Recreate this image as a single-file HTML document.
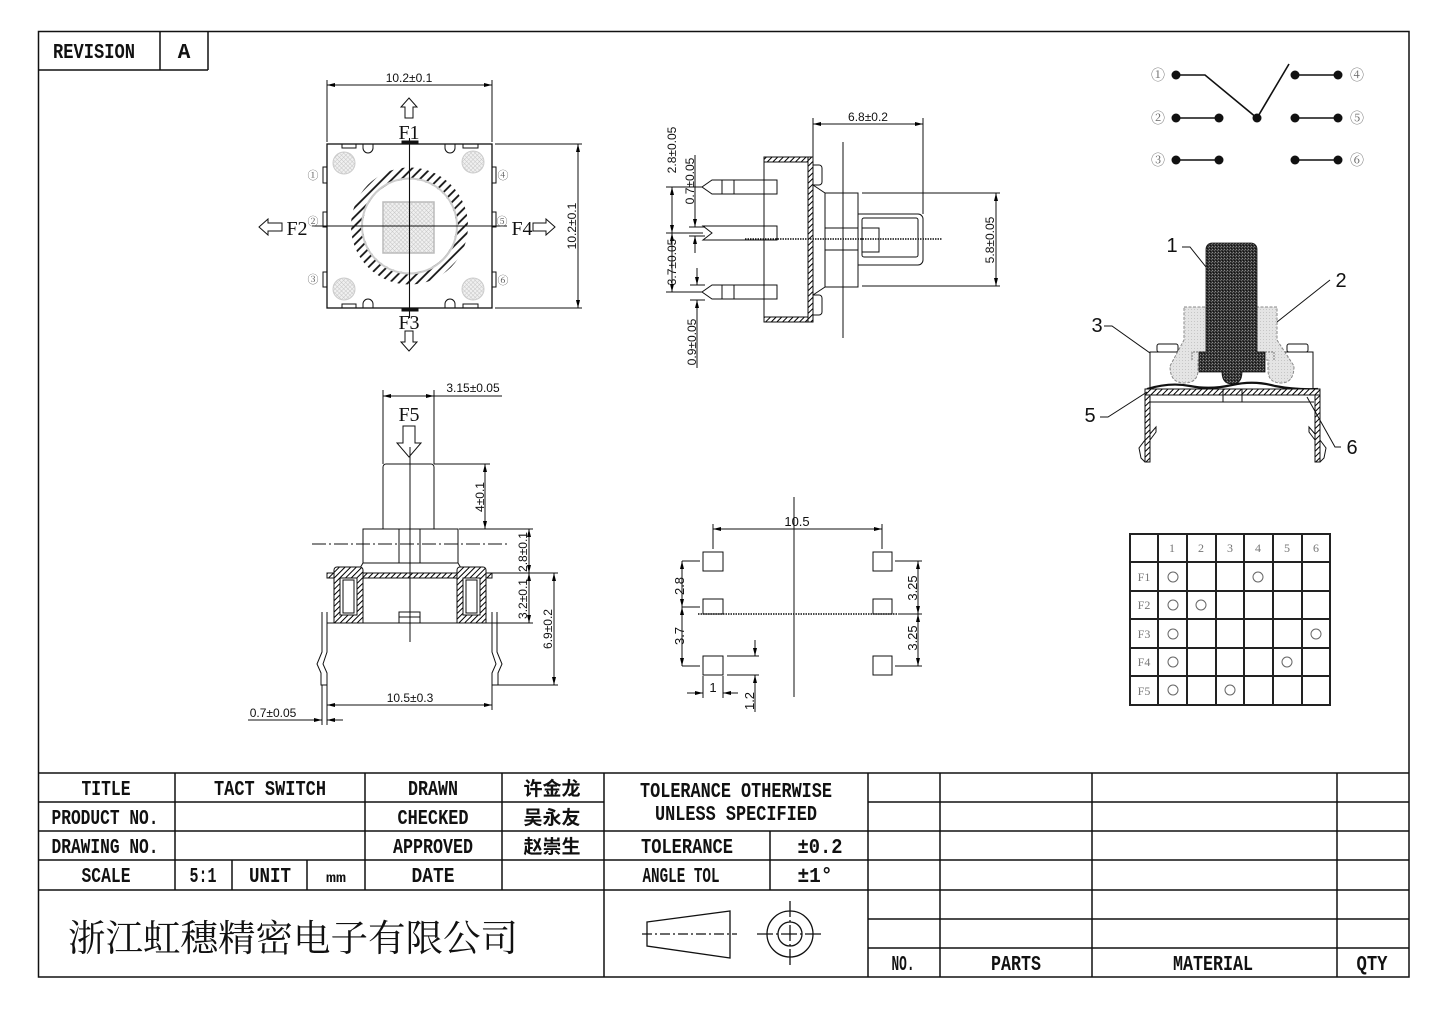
<!DOCTYPE html>
<html><head><meta charset="utf-8">
<style>html,body{margin:0;padding:0;background:#fff}svg{display:block}</style>
</head>
<body>
<svg width="1444" height="1012" viewBox="0 0 1444 1012" xmlns="http://www.w3.org/2000/svg">
<defs>
<marker id="ar" viewBox="0 0 8 4" refX="8" refY="2" markerWidth="8" markerHeight="4" markerUnits="userSpaceOnUse" orient="auto-start-reverse"><path d="M0,0L8,2L0,4z" fill="#000"/></marker>
<pattern id="h" width="4" height="4" patternUnits="userSpaceOnUse" patternTransform="rotate(45)"><rect width="4" height="4" fill="#fff"/><line x1="1" y1="0" x2="1" y2="4" stroke="#000" stroke-width="1"/></pattern>
<pattern id="h2" width="6.5" height="6.5" patternUnits="userSpaceOnUse" patternTransform="rotate(45)"><line x1="1" y1="0" x2="1" y2="6.5" stroke="#111" stroke-width="1.8"/></pattern>
<pattern id="x" width="3" height="3" patternUnits="userSpaceOnUse" patternTransform="rotate(45)"><rect width="3" height="3" fill="#f0f0f0"/><path d="M0,0H3M0,0V3" stroke="#c4c4c4" stroke-width="0.9"/></pattern>
<pattern id="dk" width="3" height="3" patternUnits="userSpaceOnUse"><rect width="3" height="3" fill="#333"/><rect width="1" height="1" fill="#888"/><rect x="2" y="1" width="1" height="1" fill="#666"/><rect x="1" y="2" width="1" height="1" fill="#111"/></pattern>
<pattern id="lg" width="3" height="3" patternUnits="userSpaceOnUse"><rect width="3" height="3" fill="#e4e4e4"/><rect width="1" height="1" fill="#c6c6c6"/></pattern>
</defs>
<rect width="1444" height="1012" fill="#fff"/>

<g fill="none" stroke="#111" stroke-width="1.5">
<rect x="38.5" y="31.5" width="1370.5" height="945.5"/>
<path d="M160,31V70M208,31V70M38,70H208"/>
<path d="M38,773H1409M38,802H604M868,802H1409M38,831H1409M38,860H1409M38,890H1409M868,919H1409M868,948H1409"/>
<path d="M175,773V890M365,773V890M502,773V890M604,773V977M232,860V890M307,860V890M770,831V890M868,773V977M940,773V977M1092,773V977M1337,773V977"/>
</g>

<g font-family="'Liberation Mono','Noto Sans CJK SC',monospace" font-weight="bold" font-size="21" fill="#111" text-anchor="middle">
<text x="94" y="58" textLength="82" lengthAdjust="spacingAndGlyphs">REVISION</text>
<text x="184" y="58">A</text>
<text x="106" y="795" textLength="49" lengthAdjust="spacingAndGlyphs">TITLE</text>
<text x="270" y="795" textLength="112" lengthAdjust="spacingAndGlyphs">TACT SWITCH</text>
<text x="433" y="795" textLength="50" lengthAdjust="spacingAndGlyphs">DRAWN</text>
<text x="105" y="824" textLength="107" lengthAdjust="spacingAndGlyphs">PRODUCT NO.</text>
<text x="433" y="824" textLength="71" lengthAdjust="spacingAndGlyphs">CHECKED</text>
<text x="105" y="853" textLength="107" lengthAdjust="spacingAndGlyphs">DRAWING NO.</text>
<text x="433" y="853" textLength="80" lengthAdjust="spacingAndGlyphs">APPROVED</text>
<text x="106" y="882" textLength="49" lengthAdjust="spacingAndGlyphs">SCALE</text>
<text x="203" y="882" textLength="27" lengthAdjust="spacingAndGlyphs">5:1</text>
<text x="270" y="882" textLength="42" lengthAdjust="spacingAndGlyphs">UNIT</text>
<text x="336" y="882" font-size="14" textLength="20" lengthAdjust="spacingAndGlyphs">mm</text>
<text x="433" y="882" textLength="43" lengthAdjust="spacingAndGlyphs">DATE</text>
<text x="736" y="797" textLength="192" lengthAdjust="spacingAndGlyphs">TOLERANCE OTHERWISE</text>
<text x="736" y="820" textLength="162" lengthAdjust="spacingAndGlyphs">UNLESS SPECIFIED</text>
<text x="687" y="853" textLength="92" lengthAdjust="spacingAndGlyphs">TOLERANCE</text>
<text x="820" y="853" textLength="45" lengthAdjust="spacingAndGlyphs">±0.2</text>
<text x="681" y="882" textLength="77" lengthAdjust="spacingAndGlyphs">ANGLE TOL</text>
<text x="815" y="882" textLength="35" lengthAdjust="spacingAndGlyphs">±1°</text>
<text x="903" y="970" textLength="23" lengthAdjust="spacingAndGlyphs">NO.</text>
<text x="1016" y="970" textLength="50" lengthAdjust="spacingAndGlyphs">PARTS</text>
<text x="1213" y="970" textLength="80" lengthAdjust="spacingAndGlyphs">MATERIAL</text>
<text x="1372" y="970" textLength="31" lengthAdjust="spacingAndGlyphs">QTY</text>
</g>
<g font-family="'Noto Sans CJK SC',sans-serif" font-weight="bold" font-size="19" fill="#111" text-anchor="middle">
<text x="552" y="795">许金龙</text>
<text x="552" y="824">吴永友</text>
<text x="552" y="853">赵崇生</text>
</g>
<text x="68" y="951" font-family="'Noto Serif CJK SC','Noto Sans CJK SC',serif" font-size="37" fill="#111" textLength="450" lengthAdjust="spacingAndGlyphs">浙江虹穗精密电子有限公司</text>

<g fill="none" stroke="#111" stroke-width="1.3">
<path d="M647,922L730,911V958L647,946Z"/>
<path d="M642,934H737" stroke-dasharray="10,3,2,3"/>
<circle cx="790" cy="934" r="23"/>
<circle cx="790" cy="934" r="12"/>
<path d="M757,934H823M790,901V967" stroke-dasharray="16,3,2,3"/>
</g>

<!-- TOP VIEW -->
<g fill="none" stroke="#111" stroke-width="1">
<path d="M327,80V142M492,80V142"/>
<path d="M327,85H492" marker-start="url(#ar)" marker-end="url(#ar)"/>
<path d="M495,144H582M495,308H582"/>
<path d="M578,144V308" marker-start="url(#ar)" marker-end="url(#ar)"/>
<circle cx="344" cy="163" r="11" fill="url(#x)" stroke="#ccc"/>
<circle cx="473" cy="162" r="11" fill="url(#x)" stroke="#ccc"/>
<circle cx="344" cy="289" r="11" fill="url(#x)" stroke="#ccc"/>
<circle cx="473" cy="289" r="11" fill="url(#x)" stroke="#ccc"/>
<path d="M351,226a58.5,58.5 0 1 0 117,0a58.5,58.5 0 1 0 -117,0ZM363,226a46.5,46.5 0 1 1 93,0a46.5,46.5 0 1 1 -93,0Z" fill="url(#h2)" fill-rule="evenodd" stroke="none"/>
<circle cx="409.5" cy="226" r="47.5" stroke="#ccc" stroke-width="2"/>
<rect x="383" y="202" width="51" height="51" fill="url(#x)" stroke="#bbb" stroke-width="1.5"/>
<rect x="327" y="144" width="165" height="164" stroke-width="1.3"/>
<rect x="342" y="144" width="14" height="4"/>
<rect x="463" y="144" width="15" height="4"/>
<path d="M363,144v4a5,5 0 0 0 10,0v-4M445,144v4a5,5 0 0 0 10,0v-4"/>
<rect x="342" y="304" width="14" height="4"/>
<rect x="463" y="304" width="15" height="4"/>
<path d="M363,308v-4a5,5 0 0 1 10,0v4M445,308v-4a5,5 0 0 1 10,0v4"/>
<rect x="402" y="141" width="16" height="3" fill="#111"/>
<rect x="402" y="308" width="16" height="3" fill="#111"/>
<rect x="323" y="167" width="4" height="16"/>
<rect x="323" y="212" width="4" height="15"/>
<rect x="323" y="272" width="4" height="15"/>
<rect x="492" y="167" width="4" height="16"/>
<rect x="492" y="212" width="4" height="15"/>
<rect x="492" y="272" width="4" height="15"/>
<path d="M409.5,138V318M312,226H507" stroke-width="1.1"/>
<path d="M409,98L417,107H413V118H405V107H401Z"/>
<path d="M409,351L417,342H413V331H405V342H401Z"/>
<path d="M259,227L268,219V223H282V231H268V235Z"/>
<path d="M555,227L546,219V223H533V231H546V235Z"/>
</g>
<g font-family="'Liberation Serif',serif" font-size="20" fill="#111" text-anchor="middle">
<text x="409" y="139">F1</text>
<text x="409" y="329">F3</text>
<text x="297" y="235">F2</text>
<text x="522" y="235">F4</text>
<text x="409" y="421">F5</text>
</g>
<g font-family="'Liberation Serif','Noto Serif CJK SC','Noto Sans CJK SC',serif" font-size="11" fill="#555" text-anchor="middle">
<text x="313" y="179">①</text>
<text x="313" y="225">②</text>
<text x="313" y="283">③</text>
<text x="503" y="179">④</text>
<text x="502" y="225">⑤</text>
<text x="503" y="284">⑥</text>
</g>

<!-- SIDE VIEW -->
<g fill="none" stroke="#111" stroke-width="1">
<path d="M813,118V157M923,118V214"/>
<path d="M813,124H923" marker-start="url(#ar)" marker-end="url(#ar)"/>
<path d="M862,193H1000M862,286H1000"/>
<path d="M996,193V286" marker-start="url(#ar)" marker-end="url(#ar)"/>
<rect x="764" y="157" width="49" height="165"/>
<rect x="764" y="157" width="44" height="5" fill="url(#h)"/>
<rect x="764" y="317" width="44" height="5" fill="url(#h)"/>
<rect x="808" y="157" width="5" height="165" fill="url(#h)"/>
<path d="M813,165h6a3,3 0 0 1 3,3v14a3,3 0 0 1 -3,3h-6M813,295h6a3,3 0 0 1 3,3v14a3,3 0 0 1 -3,3h-6"/>
<path d="M813,185L825,193V287L813,295"/>
<rect x="825" y="193" width="33" height="94"/>
<path d="M825,228H858M825,250H858"/>
<path d="M858,214H918a5,5 0 0 1 5,5V260a5,5 0 0 1 -5,5H858"/>
<rect x="862" y="218" width="56" height="39" rx="2"/>
<rect x="862" y="228" width="17" height="24"/>
<path d="M777,180H712L702,187L712,194H777ZM722,180V194M734,180V194"/>
<path d="M777,226H703L712,233L703,240H777Z"/>
<path d="M777,285H712L702,292L712,299H777ZM722,285V299M734,285V299"/>
<path d="M843,142V338"/>
<path d="M745,239H942" stroke-dasharray="1.5,1" stroke-width="1.4"/>
<path d="M666,187H702M666,233H703M666,292H702"/>
<path d="M672,187V233" marker-start="url(#ar)" marker-end="url(#ar)"/>
<path d="M672,233V292" marker-start="url(#ar)" marker-end="url(#ar)"/>
<path d="M695,155V227M695,236V253" />
<path d="M695,212V227" marker-end="url(#ar)"/>
<path d="M695,252V236" marker-end="url(#ar)"/>
<path d="M689,227H705M689,236H705"/>
<path d="M697,268V285" marker-end="url(#ar)"/>
<path d="M697,368V300" marker-end="url(#ar)"/>
<path d="M690,285H705M690,300H705"/>
</g>

<g font-family="'Liberation Sans',sans-serif" font-size="12" fill="#111" text-anchor="middle">
<text x="409" y="82">10.2±0.1</text>
<text transform="translate(576,226) rotate(-90)">10.2±0.1</text>
<text x="868" y="121">6.8±0.2</text>
<text transform="translate(994,240) rotate(-90)">5.8±0.05</text>
<text transform="translate(676,150) rotate(-90)">2.8±0.05</text>
<text transform="translate(694,181) rotate(-90)">0.7±0.05</text>
<text transform="translate(676,262) rotate(-90)">3.7±0.05</text>
<text transform="translate(696,342) rotate(-90)">0.9±0.05</text>
<text x="473" y="392">3.15±0.05</text>
<text transform="translate(484,497) rotate(-90)">4±0.1</text>
<text transform="translate(527,552) rotate(-90)">2.8±0.1</text>
<text transform="translate(527,599) rotate(-90)">3.2±0.1</text>
<text transform="translate(552,629) rotate(-90)">6.9±0.2</text>
<text x="410" y="702">10.5±0.3</text>
<text x="273" y="717">0.7±0.05</text>
<text x="797" y="526" font-size="13">10.5</text>
<text transform="translate(684,586) rotate(-90)" font-size="13">2.8</text>
<text transform="translate(684,636) rotate(-90)" font-size="13">3.7</text>
<text transform="translate(917,588) rotate(-90)" font-size="13">3.25</text>
<text transform="translate(917,638) rotate(-90)" font-size="13">3.25</text>
<text x="713" y="692" font-size="13">1</text>
<text transform="translate(754,701) rotate(-90)" font-size="13">1.2</text>
</g>

<!-- FRONT VIEW -->
<g fill="none" stroke="#111" stroke-width="1">
<path d="M383,390V464M434,390V464"/>
<path d="M383,396H434" marker-start="url(#ar)" marker-end="url(#ar)"/>
<path d="M434,396H502"/>
<path d="M403,426H415V443H421L409,457L397,443H403Z"/>
<path d="M383,529V467a3,3 0 0 1 3,-3H431a3,3 0 0 1 3,3V529"/>
<rect x="363" y="529" width="95" height="34"/>
<path d="M399,529V563M420,529V563"/>
<path d="M363,563L357,573M458,563L464,573"/>
<rect x="327" y="573" width="165" height="5" fill="url(#h)"/>
<path d="M334,623V570a3,3 0 0 1 3,-3H360a3,3 0 0 1 3,3V623Z" fill="url(#h)"/>
<rect x="340" y="578" width="17" height="37" fill="#fff"/>
<rect x="343" y="580" width="11" height="33"/>
<path d="M457,623V570a3,3 0 0 1 3,-3H483a3,3 0 0 1 3,3V623Z" fill="url(#h)"/>
<rect x="463" y="578" width="17" height="37" fill="#fff"/>
<rect x="466" y="580" width="11" height="33"/>
<path d="M327,623H533"/>
<rect x="399" y="612" width="21" height="11"/>
<path d="M399,617H420"/>
<path d="M322,612V652L317,664L321,673V685H327V673L323,664L327,652V612"/>
<path d="M497,612V652L502,664L498,673V685H492V673L496,664L492,652V612"/>
<path d="M410,447V642"/>
<path d="M312,544H508" stroke-dasharray="14,3,2,3"/>
<path d="M434,464H490M459,529H533M486,573H558M497,685H558"/>
<path d="M485,464V529" marker-start="url(#ar)" marker-end="url(#ar)"/>
<path d="M529,529V573" marker-start="url(#ar)" marker-end="url(#ar)"/>
<path d="M529,573V623" marker-start="url(#ar)" marker-end="url(#ar)"/>
<path d="M554,573V685" marker-start="url(#ar)" marker-end="url(#ar)"/>
<path d="M327,685V725M492,685V710M322,685V725"/>
<path d="M327,705H492" marker-start="url(#ar)" marker-end="url(#ar)"/>
<path d="M248,720H322" marker-end="url(#ar)"/>
<path d="M343,720H327" marker-end="url(#ar)"/>
</g>

<!-- FOOTPRINT -->
<g fill="none" stroke="#111" stroke-width="1">
<path d="M713,524V549M882,524V549"/>
<path d="M713,529H882" marker-start="url(#ar)" marker-end="url(#ar)"/>
<rect x="703" y="552" width="20" height="19"/>
<rect x="703" y="599" width="20" height="15"/>
<rect x="703" y="656" width="20" height="19"/>
<rect x="873" y="552" width="19" height="19"/>
<rect x="873" y="599" width="19" height="15"/>
<rect x="873" y="656" width="19" height="19"/>
<path d="M794,497V697"/>
<path d="M698,614H898" stroke-dasharray="1.5,1" stroke-width="1.4"/>
<path d="M682,561H700M682,607H700M682,666H700"/>
<path d="M682,561V607" marker-start="url(#ar)" marker-end="url(#ar)"/>
<path d="M682,607V666" marker-start="url(#ar)" marker-end="url(#ar)"/>
<path d="M895,561H922M895,666H922M898,614H922"/>
<path d="M918,561V614" marker-start="url(#ar)" marker-end="url(#ar)"/>
<path d="M918,614V666" marker-start="url(#ar)" marker-end="url(#ar)"/>
<path d="M703,676V698M723,676V698"/>
<path d="M687,693H703" marker-end="url(#ar)"/>
<path d="M738,693H723" marker-end="url(#ar)"/>
<path d="M727,656H759M727,675H759"/>
<path d="M755,640V656" marker-end="url(#ar)"/>
<path d="M755,712V675" marker-end="url(#ar)"/>
</g>

<!-- SCHEMATIC -->
<g stroke="#111" stroke-width="1.6" fill="none">
<path d="M1176,75H1205L1257,118L1289,64"/>
<path d="M1295,75H1338M1176,118H1219M1295,118H1338M1176,160H1219M1295,160H1338"/>
</g>
<g fill="#111">
<circle cx="1176" cy="75" r="4.5"/><circle cx="1295" cy="75" r="4.5"/><circle cx="1338" cy="75" r="4.5"/>
<circle cx="1176" cy="118" r="4.5"/><circle cx="1219" cy="118" r="4.5"/><circle cx="1257" cy="118" r="4.5"/><circle cx="1295" cy="118" r="4.5"/><circle cx="1338" cy="118" r="4.5"/>
<circle cx="1176" cy="160" r="4.5"/><circle cx="1219" cy="160" r="4.5"/><circle cx="1295" cy="160" r="4.5"/><circle cx="1338" cy="160" r="4.5"/>
</g>
<g font-family="'Liberation Serif','Noto Serif CJK SC','Noto Sans CJK SC',serif" font-size="14" fill="#666" text-anchor="middle">
<text x="1158" y="80">①</text><text x="1158" y="123">②</text><text x="1158" y="165">③</text>
<text x="1357" y="80">④</text><text x="1357" y="123">⑤</text><text x="1357" y="165">⑥</text>
</g>

<!-- CROSS SECTION -->
<g fill="none" stroke="#111" stroke-width="1">
<path d="M1150,389V352H1313V389"/>
<rect x="1157" y="344" width="21" height="8" rx="2"/>
<rect x="1287" y="344" width="21" height="8" rx="2"/>
<path d="M1184,307H1277V340L1294,366Q1294,383 1281,383Q1268,383 1268,370V360H1262V352H1204V360H1198V370Q1198,383 1184,383Q1170,383 1170,366L1184,340Z" fill="url(#lg)" stroke="#888" stroke-dasharray="3,1.5"/>
<path d="M1192,360V352H1204M1274,360V352H1262" stroke="#777" stroke-dasharray="2,1"/>
<path d="M1206,352V249a6,6 0 0 1 6,-6H1251a6,6 0 0 1 6,6V352H1265V372H1242Q1242,384 1232,384Q1222,384 1222,372H1199V352Z" fill="url(#dk)" stroke="#111" stroke-width="0.8"/>
<path d="M1147,389Q1170,382 1190,386Q1210,390 1232,385Q1254,380 1275,386Q1296,390 1318,389" stroke-width="2.2"/>
<rect x="1145" y="389" width="175" height="6" fill="url(#h)"/>
<path d="M1150,402H1314M1223,389V402M1242,389V402"/>
<rect x="1145" y="395" width="5" height="67" fill="url(#h)"/>
<rect x="1315" y="395" width="5" height="67" fill="url(#h)"/>
<path d="M1150,440L1156,432V427L1150,434"/>
<path d="M1145,440L1139,448L1141,458L1145,462"/>
<path d="M1315,440L1309,432V427L1315,434"/>
<path d="M1320,440L1326,448L1324,458L1320,462"/>
<path d="M1182,247H1190L1206,267"/>
<path d="M1330,280L1277,322"/>
<path d="M1104,326H1112L1150,353"/>
<path d="M1100,417H1108L1147,392"/>
<path d="M1341,447H1335L1307,397"/>
</g>
<g font-family="'Liberation Sans',sans-serif" font-size="20" fill="#111" text-anchor="middle">
<text x="1172" y="252">1</text>
<text x="1341" y="287">2</text>
<text x="1097" y="332">3</text>
<text x="1090" y="422">5</text>
<text x="1352" y="454">6</text>
</g>

<!-- TABLE -->
<g fill="none" stroke="#222" stroke-width="2">
<rect x="1130" y="534" width="200" height="171"/>
<path d="M1158,534V705M1187,534V705M1216,534V705M1244,534V705M1273,534V705M1302,534V705"/>
<path d="M1130,562H1330M1130,591H1330M1130,619H1330M1130,648H1330M1130,676H1330"/>
</g>
<g font-family="'Liberation Serif',serif" font-size="12" fill="#777" text-anchor="middle">
<text x="1172" y="552">1</text><text x="1201" y="552">2</text><text x="1230" y="552">3</text><text x="1258" y="552">4</text><text x="1287" y="552">5</text><text x="1316" y="552">6</text>
<text x="1144" y="581">F1</text><text x="1144" y="609">F2</text><text x="1144" y="638">F3</text><text x="1144" y="666">F4</text><text x="1144" y="695">F5</text>
</g>
<g fill="none" stroke="#666" stroke-width="1">
<circle cx="1173" cy="577" r="5"/><circle cx="1258" cy="577" r="5"/>
<circle cx="1173" cy="605" r="5"/><circle cx="1201" cy="605" r="5"/>
<circle cx="1173" cy="634" r="5"/><circle cx="1316" cy="634" r="5"/>
<circle cx="1173" cy="662" r="5"/><circle cx="1287" cy="662" r="5"/>
<circle cx="1173" cy="690" r="5"/><circle cx="1230" cy="690" r="5"/>
</g>
</svg>
</body>
</html>
